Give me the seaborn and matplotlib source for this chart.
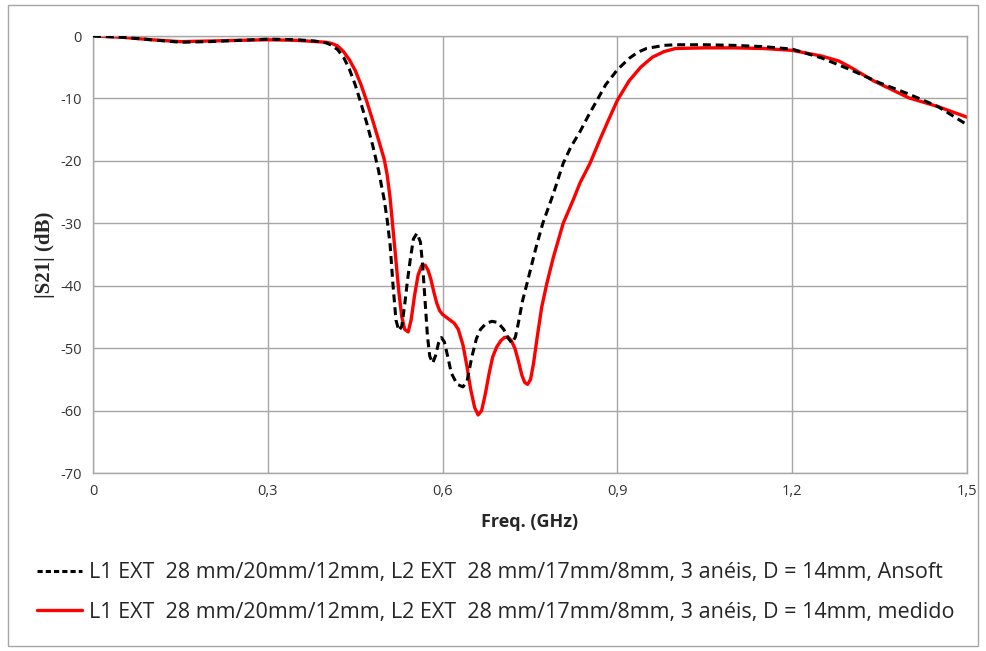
import matplotlib
matplotlib.use("Agg")
import matplotlib.pyplot as plt
import seaborn as sns
import pandas as pd
from matplotlib.lines import Line2D
from matplotlib.patches import Rectangle

# Ansoft (simulated) curve
freq_ansoft = [0.00, 0.05, 0.10, 0.15, 0.20, 0.25, 0.30, 0.35, 0.38, 0.40, 0.41, 0.42, 0.43, 0.44,
               0.45, 0.46, 0.47, 0.48, 0.49, 0.50, 0.505, 0.51, 0.515, 0.52, 0.525, 0.53, 0.535,
               0.54, 0.545, 0.55, 0.556, 0.562, 0.566, 0.57, 0.574, 0.578, 0.583, 0.588, 0.593,
               0.598, 0.603, 0.608, 0.615, 0.625, 0.635, 0.642, 0.65, 0.658, 0.665, 0.675,
               0.685, 0.695, 0.705, 0.712, 0.719, 0.725, 0.73, 0.737, 0.745, 0.76, 0.772,
               0.79, 0.807, 0.82, 0.836, 0.85, 0.865, 0.88, 0.90, 0.92, 0.935, 0.95, 0.98,
               1.00, 1.05, 1.10, 1.15, 1.20, 1.25, 1.30, 1.35, 1.40, 1.45, 1.50]
s21_ansoft = [0.0, -0.2, -0.6, -1.0, -0.9, -0.7, -0.5, -0.6, -0.8, -1.1, -1.5, -2.2, -3.4, -5.3,
              -7.8, -10.8, -14.0, -17.5, -21.5, -26.3, -29.5, -33.5, -40.0, -45.5, -47.2, -46.5, -43.0,
              -39.0, -35.5, -32.5, -31.6, -33.0, -37.0, -42.5, -48.0, -51.3, -52.4, -51.2, -49.2,
              -48.3, -49.0, -51.0, -54.0, -55.8, -56.2, -55.3, -51.5, -48.5, -47.0, -46.0,
              -45.7, -45.9, -47.0, -48.3, -49.2, -48.2, -46.0, -42.5, -39.6, -34.0, -30.0,
              -25.3, -20.4, -17.8, -15.3, -12.8, -10.3, -7.8, -5.4, -3.6, -2.6, -2.0, -1.5,
              -1.4, -1.4, -1.5, -1.7, -2.1, -3.5, -5.4, -7.5, -9.3, -11.3, -14.2]

# measured curve
freq_medido = [0.00, 0.05, 0.10, 0.15, 0.20, 0.25, 0.30, 0.35, 0.40, 0.41, 0.42, 0.43, 0.44, 0.45,
               0.46, 0.47, 0.48, 0.49, 0.50, 0.505, 0.51, 0.515, 0.52, 0.525, 0.53, 0.535,
               0.541, 0.546, 0.552, 0.558, 0.564, 0.570, 0.575, 0.58, 0.585, 0.59, 0.595, 0.60,
               0.61, 0.62, 0.627, 0.635, 0.642, 0.648, 0.655, 0.661, 0.667, 0.673, 0.68,
               0.686, 0.693, 0.70, 0.706, 0.712, 0.718, 0.724, 0.73, 0.736, 0.741, 0.746,
               0.751, 0.756, 0.762, 0.77, 0.779, 0.79, 0.807, 0.824, 0.836, 0.853, 0.87,
               0.885, 0.90, 0.92, 0.94, 0.96, 0.98, 1.00, 1.05, 1.10, 1.15, 1.20, 1.25,
               1.28, 1.30, 1.34, 1.40, 1.45, 1.50]
s21_medido = [0.0, -0.2, -0.6, -0.9, -0.8, -0.7, -0.6, -0.7, -1.0, -1.2, -1.6, -2.5, -3.8, -5.5,
              -7.8, -10.5, -13.5, -16.6, -19.8, -22.3, -26.0, -31.0, -36.0, -41.0, -45.0, -47.0,
              -47.4, -45.5, -41.5, -38.3, -36.8, -36.7, -37.5, -39.0, -41.0, -42.8, -44.0, -44.6,
              -45.3, -46.0, -47.0, -49.5, -53.0, -56.5, -59.5, -60.7, -60.0, -57.5, -54.0,
              -51.4, -49.8, -48.8, -48.3, -48.2, -48.8, -50.0, -52.0, -54.3, -55.5, -55.8,
              -55.0, -52.5, -48.5, -43.5, -39.6, -35.5, -30.0, -26.3, -23.5, -20.4, -16.6,
              -13.4, -10.3, -7.2, -5.0, -3.4, -2.5, -2.0, -1.9, -1.9, -2.0, -2.3, -3.2,
              -4.0, -5.0, -7.2, -9.9, -11.3, -13.0]

label_ansoft = "L1 EXT  28 mm/20mm/12mm, L2 EXT  28 mm/17mm/8mm, 3 anéis, D = 14mm, Ansoft"
label_medido = "L1 EXT  28 mm/20mm/12mm, L2 EXT  28 mm/17mm/8mm, 3 anéis, D = 14mm, medido"

xticks = [0, 0.3, 0.6, 0.9, 1.2, 1.5]
xtick_labels = ["0", "0,3", "0,6", "0,9", "1,2", "1,5"]
yticks = [0, -10, -20, -30, -40, -50, -60, -70]

sns.set_style("white")
plt.rcParams['font.family'] = ['Open Sans', 'DejaVu Sans']
plt.rcParams['axes.unicode_minus'] = False

fig = plt.figure(figsize=(9.86, 6.51), dpi=100)
ax = fig.add_axes([0.0943, 0.2734, 0.8864, 0.6713])

df_a = pd.DataFrame({"f": freq_ansoft, "s": s21_ansoft})
df_m = pd.DataFrame({"f": freq_medido, "s": s21_medido})

sns.lineplot(data=df_a, x="f", y="s", ax=ax, color="black", linewidth=2.2,
             linestyle=(0, (2.6, 1.6)), sort=False, zorder=3)
sns.lineplot(data=df_m, x="f", y="s", ax=ax, color="#ff0000", linewidth=2.4,
             sort=False, zorder=2)

ax.set_xlim(0, 1.5)
ax.set_ylim(-70, 0)
ax.set_xticks(xticks)
ax.set_xticklabels(xtick_labels)
ax.set_yticks(yticks)
ax.tick_params(axis="both", length=0, labelsize=10.5, colors="#333333", pad=8)
ax.grid(True, color="#a6a6a6", linewidth=1.0)
for side in ax.spines:
    ax.spines[side].set_color("#a6a6a6")
    ax.spines[side].set_linewidth(1.0)

ax.set_xlabel("Freq. (GHz)", fontsize=13, fontweight="bold", labelpad=10)
ax.set_ylabel("|S21| (dB)", fontsize=15, fontweight="bold",
              family=["Liberation Serif"], labelpad=4)

handles = [Line2D([], [], color="black", linewidth=2.2, linestyle=(0, (1.7, 1.0))),
           Line2D([], [], color="#ff0000", linewidth=2.4)]
fig.legend(handles, [label_ansoft, label_medido], loc="upper left",
           bbox_to_anchor=(0.018, 0.166), frameon=False, fontsize=15.5,
           handlelength=2.1, handletextpad=0.3, labelspacing=0.85,
           borderpad=0.4, bbox_transform=fig.transFigure)

fig.patches.append(Rectangle((0.008, 0.008), 0.984, 0.984, transform=fig.transFigure,
                             fill=False, edgecolor="#a6a6a6", linewidth=1.0))

fig.savefig("out.png", dpi=100)
